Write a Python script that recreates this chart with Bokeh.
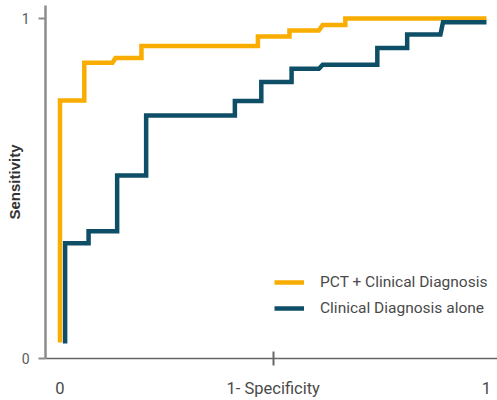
from bokeh.plotting import figure
from bokeh.models import Range1d, FixedTicker
from bokeh.embed import file_html
from bokeh.resources import INLINE

# ROC curve vertices (1 - specificity, sensitivity)
pct_x = [0.0, 0.0, 0.057, 0.057, 0.123, 0.130, 0.191, 0.191, 0.464, 0.464,
         0.538, 0.538, 0.607, 0.616, 0.669, 0.669, 1.0]
pct_y = [0.047, 0.759, 0.759, 0.870, 0.870, 0.884, 0.884, 0.919, 0.919, 0.947,
         0.947, 0.965, 0.965, 0.981, 0.981, 1.0, 1.0]

clin_x = [0.012, 0.012, 0.067, 0.067, 0.134, 0.134, 0.202, 0.202, 0.410, 0.410,
          0.472, 0.472, 0.543, 0.543, 0.607, 0.616, 0.744, 0.744, 0.814, 0.814,
          0.892, 0.898, 1.0]
clin_y = [0.044, 0.339, 0.339, 0.374, 0.374, 0.538, 0.538, 0.715, 0.715, 0.757,
          0.757, 0.813, 0.813, 0.852, 0.852, 0.864, 0.864, 0.913, 0.913, 0.953,
          0.953, 0.989, 0.989]

series_names = ["PCT + Clinical Diagnosis", "Clinical Diagnosis alone"]
x_ticks = [0, 0.5, 1]
x_tick_labels = ["0", "1- Specificity", "1"]
y_ticks = [0, 1]

FONT = "Roboto"

p = figure(width=497, height=400, output_backend="svg", toolbar_location=None,
           x_range=Range1d(-0.034, 1.0258), y_range=Range1d(0, 1.0382),
           min_border_left=45, min_border_right=0, min_border_top=5,
           min_border_bottom=42)
p.outline_line_color = None
p.xgrid.visible = False
p.ygrid.visible = False

p.line(pct_x, pct_y, line_color="#F9AD00", line_width=4.5,
       line_join="miter", legend_label=series_names[0])
p.line(clin_x, clin_y, line_color="#0E4E66", line_width=4.5,
       line_join="miter", legend_label=series_names[1])

# x axis
xa = p.xaxis[0]
xa.ticker = FixedTicker(ticks=x_ticks, minor_ticks=[0.5])
xa.major_label_overrides = {t: l for t, l in zip(x_ticks, x_tick_labels)}
xa.major_tick_line_color = None
xa.major_tick_in = 0
xa.major_tick_out = 0
xa.minor_tick_in = 7
xa.minor_tick_out = 7
xa.minor_tick_line_color = "#666666"
xa.minor_tick_line_width = 2
xa.axis_line_color = "#666666"
xa.axis_line_width = 1.5
xa.major_label_text_font = FONT
xa.major_label_text_font_size = "16.5px"
xa.major_label_text_color = "#4a4a4a"
xa.major_label_standoff = 13

# y axis
ya = p.yaxis[0]
ya.ticker = FixedTicker(ticks=y_ticks)
ya.major_tick_in = 0
ya.major_tick_out = 7
ya.minor_tick_line_color = None
ya.axis_line_color = "#8c8c8c"
ya.axis_line_width = 2.5
ya.major_tick_line_color = "#8c8c8c"
ya.major_tick_line_width = 2
ya.major_label_text_font = FONT
ya.major_label_text_font_size = "14px"
ya.major_label_text_color = "#5a5a5a"
ya.major_label_standoff = 9
ya.axis_label = "Sensitivity"
ya.axis_label_standoff = -4
ya.axis_label_text_font = "Liberation Sans"
ya.axis_label_text_font_size = "15px"
ya.axis_label_text_font_style = "bold"
ya.axis_label_text_color = "#333333"

# legend
lg = p.legend[0]
lg.location = (229, 40)
lg.border_line_color = None
lg.background_fill_alpha = 0
lg.padding = 0
lg.margin = 0
lg.spacing = 6
lg.glyph_width = 30
lg.glyph_height = 20
lg.label_height = 20
lg.label_standoff = 16
lg.label_text_font = FONT
lg.label_text_font_size = "15.5px"
lg.label_text_color = "#4a4a4a"

open("out.html", "w").write(file_html(p, INLINE))
